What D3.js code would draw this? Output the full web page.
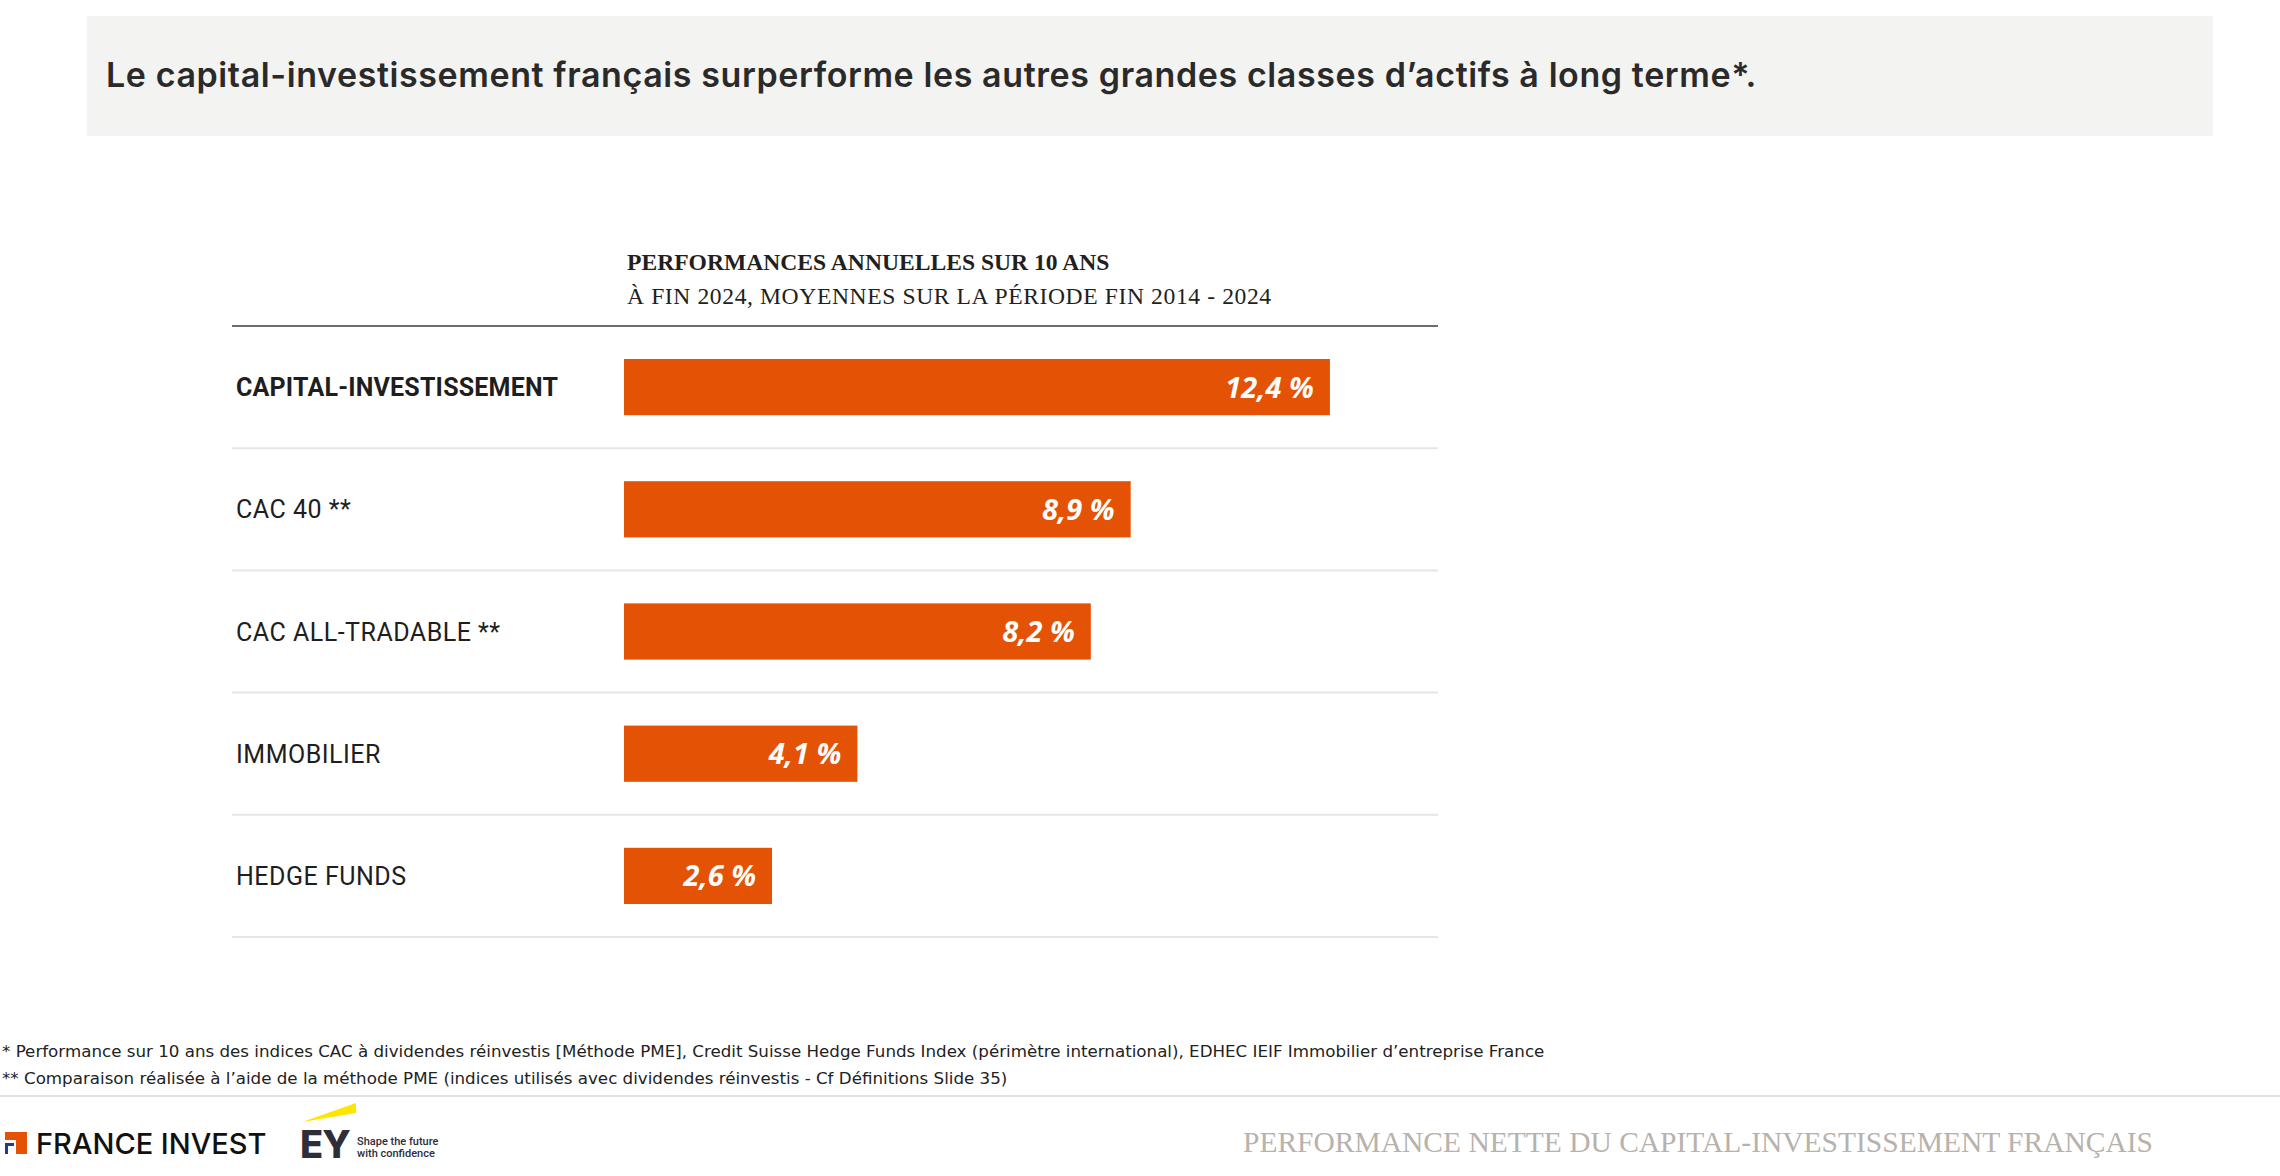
<!DOCTYPE html>
<html lang="fr">
<head>
<meta charset="utf-8">
<script src="https://cdn.jsdelivr.net/npm/d3@7"></script>
<style>
  body { margin: 0; background: #fff; }
</style>
</head>
<body>
<div id="chart"></div>
<script>
// asset classes and their 10-year annual performance (%)
var categories = ['CAPITAL-INVESTISSEMENT', 'CAC 40 **', 'CAC ALL-TRADABLE **', 'IMMOBILIER', 'HEDGE FUNDS'];
var values = [12.4, 8.9, 8.2, 4.1, 2.6];

var title = 'Le capital-investissement français surperforme les autres grandes classes d\u2019actifs à long terme*.';
var subtitle = ['PERFORMANCES ANNUELLES SUR 10 ANS', 'À FIN 2024, MOYENNES SUR LA PÉRIODE FIN 2014 - 2024'];
var notes = [
    '* Performance sur 10 ans des indices CAC à dividendes réinvestis [Méthode PME], Credit Suisse Hedge Funds Index (périmètre international), EDHEC IEIF Immobilier d\u2019entreprise France',
    '** Comparaison réalisée à l\u2019aide de la méthode PME (indices utilisés avec dividendes réinvestis  - Cf Définitions Slide 35)'
];
var footerTitle = 'PERFORMANCE NETTE DU CAPITAL-INVESTISSEMENT FRANÇAIS';

var W = 2280, H = 1176;
var orange = '#e35205';

var fr = d3.formatLocale({ decimal: ',', thousands: ' ', grouping: [3], currency: ['', ' €'] });
var fmt = fr.format('.1f');

var svg = d3.select('#chart').append('svg')
    .attr('width', W)
    .attr('height', H)
    .style('display', 'block');

// header band
svg.append('rect')
    .attr('x', 87).attr('y', 16)
    .attr('width', 2126).attr('height', 120)
    .attr('fill', '#f3f3f1');

svg.append('text')
    .attr('x', 106).attr('y', 87)
    .attr('font-family', 'Inter, sans-serif')
    .attr('font-weight', 600)
    .attr('font-size', '34px')
    .attr('letter-spacing', '0.6px')
    .attr('fill', '#2a2a2a')
    .text(title);

// chart subtitle
svg.append('text')
    .attr('x', 627).attr('y', 270)
    .attr('font-family', '"Liberation Serif", serif')
    .attr('font-weight', 'bold')
    .attr('font-size', '23.6px')
    .attr('fill', '#231f20')
    .text(subtitle[0]);

svg.append('text')
    .attr('x', 627).attr('y', 304)
    .attr('font-family', '"Liberation Serif", serif')
    .attr('font-size', '23.6px')
    .attr('letter-spacing', '0.6px')
    .attr('fill', '#231f20')
    .text(subtitle[1]);

// scales
var x = d3.scaleLinear()
    .domain([0, 14])
    .range([624, 1421]);

var y = d3.scaleBand()
    .domain(categories)
    .range([326, 937])
    .paddingInner(0.54)
    .paddingOuter(0.27);

var left = 232, right = 1438;

// row separators
svg.append('g')
    .selectAll('line')
    .data(categories)
    .join('line')
    .attr('x1', left).attr('x2', right)
    .attr('y1', function(d, i) { return 326 + (i + 1) * y.step(); })
    .attr('y2', function(d, i) { return 326 + (i + 1) * y.step(); })
    .attr('stroke', '#e6e6e6')
    .attr('stroke-width', 2);

svg.append('line')
    .attr('x1', left).attr('x2', right)
    .attr('y1', 326).attr('y2', 326)
    .attr('stroke', '#3c3c3c')
    .attr('stroke-width', 1.6);

var rows = svg.append('g')
    .selectAll('g')
    .data(categories.map(function(c, i) { return { name: c, value: values[i], idx: i }; }))
    .join('g');

rows.append('rect')
    .attr('x', x(0))
    .attr('y', function(d) { return y(d.name); })
    .attr('width', function(d) { return x(d.value) - x(0); })
    .attr('height', y.bandwidth())
    .attr('fill', orange);

rows.append('text')
    .attr('x', 236)
    .attr('y', function(d) { return y(d.name) + y.bandwidth() / 2; })
    .attr('dy', '0.36em')
    .attr('font-family', 'Roboto, sans-serif')
    .attr('font-weight', function(d) { return d.idx === 0 ? 700 : 400; })
    .attr('font-size', '25px')
    .attr('letter-spacing', function(d) { return d.idx === 0 ? '0.2px' : '0.5px'; })
    .attr('fill', '#1e1e1e')
    .text(function(d) { return d.name; });

rows.append('text')
    .attr('x', function(d) { return x(d.value) - 16; })
    .attr('y', function(d) { return y(d.name) + y.bandwidth() / 2; })
    .attr('dy', '0.36em')
    .attr('text-anchor', 'end')
    .attr('font-family', '"Open Sans", sans-serif')
    .attr('font-weight', 700)
    .attr('font-style', 'italic')
    .attr('font-size', '29px')
    .attr('fill', '#fff')
    .text(function(d) { return fmt(d.value) + ' %'; });

// footnotes
svg.append('g')
    .selectAll('text')
    .data(notes)
    .join('text')
    .attr('x', 2)
    .attr('y', function(d, i) { return 1057 + i * 27; })
    .attr('font-family', '"DejaVu Sans", sans-serif')
    .attr('font-size', '16.7px')
    .attr('fill', '#222')
    .text(function(d) { return d; });

// footer
svg.append('line')
    .attr('x1', 0).attr('x2', W)
    .attr('y1', 1096).attr('y2', 1096)
    .attr('stroke', '#e2e2e2')
    .attr('stroke-width', 2);

// France Invest mark
var fi = svg.append('g');
fi.append('rect').attr('x', 5).attr('y', 1132).attr('width', 22).attr('height', 8).attr('fill', orange);
fi.append('rect').attr('x', 16).attr('y', 1132).attr('width', 11).attr('height', 22).attr('fill', orange);
fi.append('rect').attr('x', 5).attr('y', 1143).attr('width', 9).attr('height', 3).attr('fill', '#1f3c8f');
fi.append('rect').attr('x', 5).attr('y', 1143).attr('width', 3).attr('height', 11).attr('fill', '#1f3c8f');
fi.append('text')
    .attr('x', 36).attr('y', 1154)
    .attr('font-family', 'Inter, sans-serif')
    .attr('font-weight', 500)
    .attr('font-size', '29px')
    .attr('fill', '#111')
    .text('FRANCE INVEST');

// EY mark
var ey = svg.append('g');
ey.append('polygon')
    .attr('points', '302,1122 356,1103 356,1113')
    .attr('fill', '#ffe600');
ey.append('text')
    .attr('x', 300).attr('y', 1158)
    .attr('font-family', 'Inter, sans-serif')
    .attr('font-weight', 800)
    .attr('font-size', '38px')
    .attr('letter-spacing', '-1px')
    .attr('fill', '#2e2e38')
    .text('EY');
ey.append('text')
    .attr('x', 357).attr('y', 1145)
    .attr('font-family', 'Roboto, sans-serif')
    .attr('font-weight', 500)
    .attr('font-size', '11px')
    .attr('fill', '#2e2e38')
    .text('Shape the future');
ey.append('text')
    .attr('x', 357).attr('y', 1157)
    .attr('font-family', 'Roboto, sans-serif')
    .attr('font-weight', 500)
    .attr('font-size', '11px')
    .attr('fill', '#2e2e38')
    .text('with confidence');

svg.append('text')
    .attr('x', 1243).attr('y', 1152)
    .attr('font-family', '"Liberation Serif", serif')
    .attr('font-size', '29.5px')
    .attr('fill', '#b7b2ac')
    .text(footerTitle);
</script>
</body>
</html>
